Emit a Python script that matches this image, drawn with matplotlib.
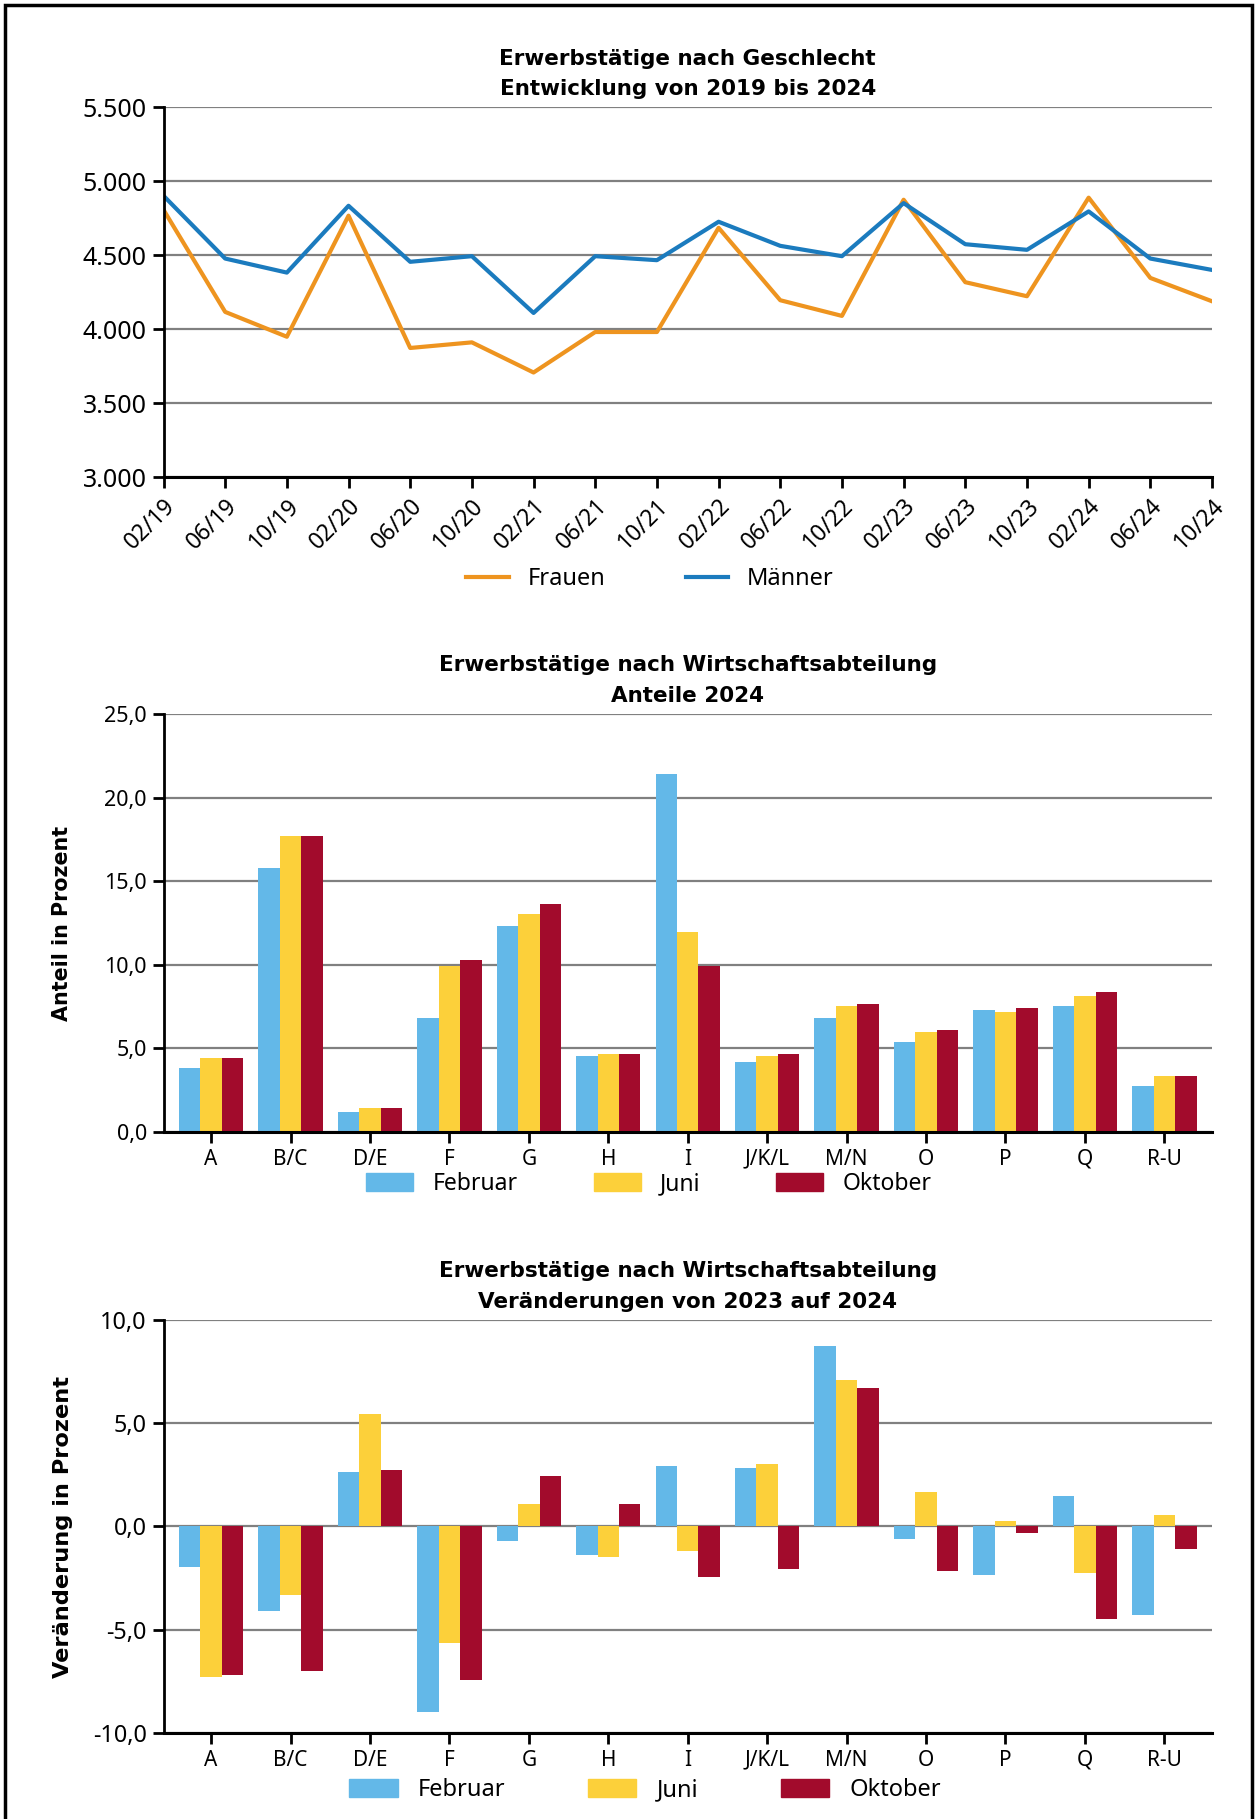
import matplotlib
matplotlib.use('Agg')
import matplotlib.pyplot as plt
from matplotlib.ticker import FuncFormatter
from matplotlib.patches import Rectangle, Patch
from matplotlib.lines import Line2D
import numpy as np

plt.rcParams['font.family'] = ['Noto Sans', 'DejaVu Sans']
fett = ['DejaVu Sans']  # Noto Sans hat hier kein Bold

# Erwerbstaetige nach Geschlecht (in 1000)
monate = ['02/19', '06/19', '10/19', '02/20', '06/20', '10/20', '02/21', '06/21', '10/21',
          '02/22', '06/22', '10/22', '02/23', '06/23', '10/23', '02/24', '06/24', '10/24']
frauen = [4808, 4117, 3949, 4768, 3873, 3911, 3707, 3981, 3981,
          4686, 4196, 4090, 4876, 4318, 4223, 4890, 4347, 4189]
maenner = [4903, 4478, 4383, 4835, 4456, 4494, 4110, 4494, 4467,
           4727, 4564, 4494, 4853, 4575, 4537, 4797, 4478, 4401]

# Wirtschaftsabteilungen
abteilungen = ['A', 'B/C', 'D/E', 'F', 'G', 'H', 'I', 'J/K/L', 'M/N', 'O', 'P', 'Q', 'R-U']
anteil_feb = [3.83, 15.79, 1.20, 6.82, 12.32, 4.55, 21.41, 4.19, 6.82, 5.38, 7.30, 7.54, 2.75]
anteil_jun = [4.43, 17.70, 1.44, 9.93, 13.04, 4.67, 11.96, 4.55, 7.54, 5.98, 7.18, 8.13, 3.35]
anteil_okt = [4.43, 17.70, 1.44, 10.29, 13.64, 4.67, 9.93, 4.67, 7.66, 6.10, 7.42, 8.37, 3.35]

veraend_feb = [-1.97, -4.08, 2.62, -8.96, -0.71, -1.39, 2.91, 2.82, 8.74, -0.61, -2.36, 1.46, -4.30]
veraend_jun = [-7.31, -3.30, 5.44, -5.63, 1.07, -1.49, -1.20, 3.01, 7.09, 1.65, 0.29, -2.27, 0.58]
veraend_okt = [-7.18, -7.02, 2.72, -7.41, 2.43, 1.07, -2.43, -2.04, 6.70, -2.14, -0.32, -4.47, -1.10]

c_frauen = '#EE941F'
c_maenner = '#1B7BBE'
c_feb = '#63B8E8'
c_jun = '#FCD03A'
c_okt = '#A20B2C'
grid_c = '#808080'

W, H = 1256, 1819
fig = plt.figure(figsize=(W / 100, H / 100), dpi=100)

# rahmen um alles
fig.add_artist(Rectangle((5 / W, -0.01), (1252 - 5) / W, 1 - 5 / H + 0.01,
                         transform=fig.transFigure, fill=False, edgecolor='black', linewidth=2.5))

left = 163.5 / W
width = (1212 - 163.5) / W


def rahmen(px_top, px_bottom):
    return [left, 1 - px_bottom / H, width, (px_bottom - px_top) / H]


def style_axes(ax, labelsize, xlabelsize):
    for s in ['top', 'right']:
        ax.spines[s].set_visible(False)
    ax.spines['left'].set_linewidth(2)
    ax.spines['bottom'].set_linewidth(2.2)
    ax.yaxis.grid(True, color=grid_c, linewidth=1.6)
    ax.set_axisbelow(True)
    ax.tick_params(axis='both', direction='out', length=8, width=2, pad=4)
    ax.tick_params(axis='y', labelsize=labelsize)
    ax.tick_params(axis='x', labelsize=xlabelsize)


def titel(ax, text):
    ax.set_title(text, fontsize=15.5, fontweight='bold', family=fett, pad=9, linespacing=1.65)


komma = FuncFormatter(lambda v, p: ('%.1f' % v).replace('.', ','))
tausend = FuncFormatter(lambda v, p: ('{:,.0f}'.format(v)).replace(',', '.'))

# --- Liniendiagramm ---
ax1 = fig.add_axes(rahmen(107.5, 477))
x = np.arange(len(monate))
ax1.plot(x, frauen, color=c_frauen, linewidth=3, label='Frauen')
ax1.plot(x, maenner, color=c_maenner, linewidth=3, label='Männer')
ax1.set_xlim(0, len(monate) - 1)
ax1.set_ylim(3000, 5500)
ax1.set_yticks(np.arange(3000, 5501, 500))
ax1.yaxis.set_major_formatter(tausend)
ax1.set_xticks(x)
ax1.set_xticklabels(monate, rotation=45, ha='right', va='top', rotation_mode='anchor')
style_axes(ax1, 18, 16.5)
titel(ax1, 'Erwerbstätige nach Geschlecht\nEntwicklung von 2019 bis 2024')
fig.legend(handles=[Line2D([], [], color=c_frauen, linewidth=3, label='Frauen'),
                    Line2D([], [], color=c_maenner, linewidth=3, label='Männer')],
           loc='center', bbox_to_anchor=(650 / W, 1 - 579 / H), ncol=2, frameon=False,
           fontsize=17, handlelength=1.8, handletextpad=0.8, columnspacing=3.4)

# --- Anteile 2024 ---
ax2 = fig.add_axes(rahmen(714, 1132))
xb = np.arange(len(abteilungen))
bw = 0.27
ax2.bar(xb - bw, anteil_feb, bw, color=c_feb)
ax2.bar(xb, anteil_jun, bw, color=c_jun)
ax2.bar(xb + bw, anteil_okt, bw, color=c_okt)
ax2.set_xlim(-0.6, len(abteilungen) - 0.4)
ax2.set_ylim(0, 25)
ax2.set_yticks(np.arange(0, 25.1, 5))
ax2.yaxis.set_major_formatter(komma)
ax2.set_xticks(xb)
ax2.set_xticklabels(abteilungen)
style_axes(ax2, 15.5, 15)
titel(ax2, 'Erwerbstätige nach Wirtschaftsabteilung\nAnteile 2024')
ax2.set_ylabel('Anteil in Prozent', fontsize=14.9, fontweight='bold', family=fett, va='center')
ax2.yaxis.set_label_coords((62 - 163.5) / (1212 - 163.5), 0.5)

leg_handles = [Patch(color=c_feb, label='Februar'), Patch(color=c_jun, label='Juni'),
               Patch(color=c_okt, label='Oktober')]
fig.legend(handles=leg_handles, loc='center', bbox_to_anchor=(649 / W, 1 - 1184 / H), ncol=3,
           frameon=False, fontsize=16.5, handlelength=2.05, handleheight=0.8,
           handletextpad=0.85, columnspacing=3.3)

# --- Veraenderungen ---
ax3 = fig.add_axes(rahmen(1320, 1733))
ax3.bar(xb - bw, veraend_feb, bw, color=c_feb)
ax3.bar(xb, veraend_jun, bw, color=c_jun)
ax3.bar(xb + bw, veraend_okt, bw, color=c_okt)
ax3.set_xlim(-0.6, len(abteilungen) - 0.4)
ax3.set_ylim(-10, 10)
ax3.set_yticks(np.arange(-10, 10.1, 5))
ax3.yaxis.set_major_formatter(komma)
ax3.set_xticks(xb)
ax3.set_xticklabels(abteilungen)
style_axes(ax3, 16.8, 15)
titel(ax3, 'Erwerbstätige nach Wirtschaftsabteilung\nVeränderungen von 2023 auf 2024')
ax3.set_ylabel('Veränderung in Prozent', fontsize=16.2, fontweight='bold', family=fett, va='center')
ax3.yaxis.set_label_coords((63 - 163.5) / (1212 - 163.5), 0.5)

fig.legend(handles=leg_handles, loc='center', bbox_to_anchor=(645 / W, 1 - 1790 / H), ncol=3,
           frameon=False, fontsize=17, handlelength=2.05, handleheight=0.8,
           handletextpad=0.85, columnspacing=3.5)

fig.savefig('out.png', dpi=100)
